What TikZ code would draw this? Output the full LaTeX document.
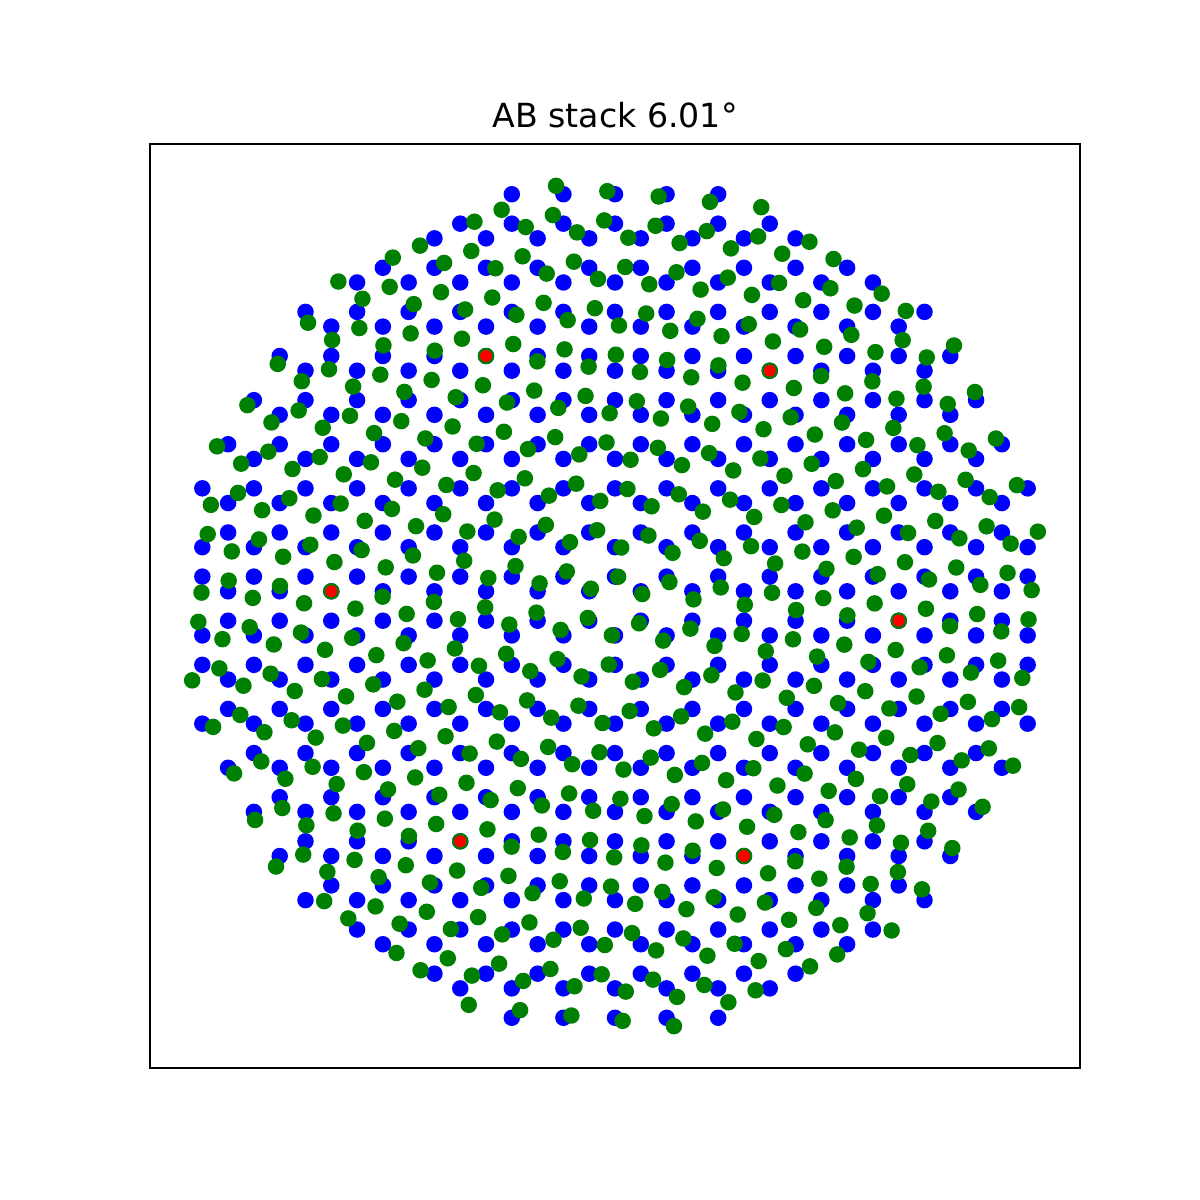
\documentclass[tikz,border=0pt]{standalone}
\usepackage{fontspec}
\setmainfont{DejaVu Sans}
\usetikzlibrary{positioning}
\definecolor{layera}{RGB}{0,0,255}
\definecolor{layerb}{RGB}{0,128,0}
\definecolor{coinc}{RGB}{255,0,0}

\begin{document}
\begin{tikzpicture}[x=0.0127cm, y=-0.0127cm,
  atom/.style={fill=#1},
  frame/.style={draw=black, line width=0.8pt},
  ttl/.style={font=\fontsize{12}{14}\selectfont, anchor=base},
]
\useasboundingbox (0,0) rectangle (1200,1200);
\node[ttl] (title) at (615,127) {AB stack 6.01°};

% lattice in units of the C-C bond, hexagon centre at the origin
\begin{scope}[shift={(615,606)}, x=0.378079cm, y=0.37338cm]
\foreach \m in {-14,...,14}{
  \foreach \n in {-10,...,10}{
    \foreach \s in {1,-1}{
      \pgfmathsetmacro\xa{1.7320508*(\m+0.5*\n)}
      \pgfmathsetmacro\ya{1.5*\n+\s}
      \pgfmathtruncatemacro\keep{(\xa*\xa+\ya*\ya<209)}
      \ifnum\keep=1 \fill[atom=layera] (\xa,\ya) circle[radius=0.1048cm];\fi
    }}}
% second layer, turned by 6.01 degrees
\foreach \m in {-14,...,14}{
  \foreach \n in {-10,...,10}{
    \foreach \s in {1,-1}{
      \pgfmathsetmacro\xa{1.7320508*(\m+0.5*\n)}
      \pgfmathsetmacro\ya{1.5*\n+\s}
      \pgfmathtruncatemacro\keep{(\xa*\xa+\ya*\ya<209)}
      \pgfmathsetmacro\xb{\xa*cos(6.009)+\ya*sin(6.009)}
      \pgfmathsetmacro\yb{\ya*cos(6.009)-\xa*sin(6.009)}
      \ifnum\keep=1 \fill[atom=layerb] (\xb,\yb) circle[radius=0.1048cm];\fi
    }}}
% coincidence sites
\foreach \k in {0,...,5}
  \fill[atom=coinc] ({-9.5262794*cos(60*\k)-0.5*sin(60*\k)},
                     {-9.5262794*sin(60*\k)+0.5*cos(60*\k)}) circle[radius=0.0762cm];
\end{scope}

\draw[frame] (150,144) rectangle (1080,1068);
\end{tikzpicture}
\end{document}
